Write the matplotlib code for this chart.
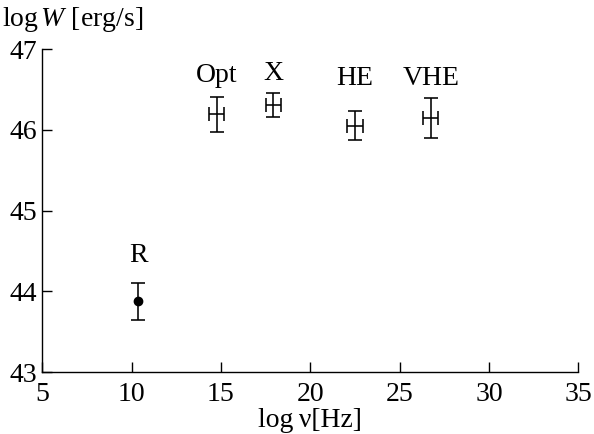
import matplotlib

matplotlib.use("Agg")

import matplotlib.pyplot as plt

# Luminosity per band: log frequency [Hz] and log W [erg/s]
bands = ["R", "Opt", "X", "HE", "VHE"]
log_nu = [10.37, 14.76, 17.93, 22.5, 26.75]
log_nu_err = [0.0, 0.42, 0.41, 0.43, 0.42]
log_w = [43.88, 46.19, 46.31, 46.05, 46.15]
log_w_err = [0.23, 0.22, 0.145, 0.18, 0.25]
label_y = [44.44, 46.67, 46.70, 46.64, 46.64]

X_TICKS = [5, 10, 15, 20, 25, 30, 35]
Y_TICKS = [43, 44, 45, 46, 47]

plt.rcParams["font.family"] = ["Liberation Serif", "DejaVu Serif"]
plt.rcParams["mathtext.fontset"] = "custom"
plt.rcParams["mathtext.rm"] = "Liberation Serif"
plt.rcParams["mathtext.it"] = "Liberation Serif:italic"

FONT_SIZE = 20


def main() -> None:
    fig = plt.figure(figsize=(5.94, 4.34), dpi=100)
    ax = fig.add_axes([0.0712, 0.1422, 0.9024, 0.7448])

    for i, name in enumerate(bands):
        xerr = log_nu_err[i] if log_nu_err[i] > 0 else None
        ax.errorbar(
            log_nu[i],
            log_w[i],
            xerr=xerr,
            yerr=log_w_err[i],
            fmt="o" if xerr is None else "none",
            color="black",
            markersize=6,
            elinewidth=1.15,
            capsize=4.8,
            capthick=1.15,
        )
        ax.text(
            log_nu[i],
            label_y[i],
            name,
            ha="center",
            va="center",
            fontsize=FONT_SIZE,
        )

    ax.set_xlim(5, 35)
    ax.set_ylim(43, 47)
    ax.set_xticks(X_TICKS)
    ax.set_yticks(Y_TICKS)
    ax.tick_params(direction="in", length=7, width=1.0, labelsize=FONT_SIZE)
    ax.tick_params(axis="y", pad=4)
    ax.tick_params(axis="x", pad=7)
    for side in ("top", "right"):
        ax.spines[side].set_visible(False)
    for side in ("left", "bottom"):
        ax.spines[side].set_linewidth(1.0)

    ax.set_xlabel("log\u2009\u03bd[Hz]", fontsize=FONT_SIZE, labelpad=1)
    fig.text(
        2 / 594,
        1 - 26 / 434,
        r"$\mathrm{log}\,W$ [erg/s]",
        ha="left",
        va="baseline",
        fontsize=FONT_SIZE,
    )

    fig.savefig("out.png", dpi=100)
    plt.close(fig)


if __name__ == "__main__":
    main()
